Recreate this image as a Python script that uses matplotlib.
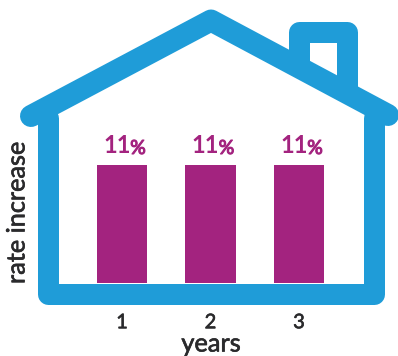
import matplotlib
matplotlib.use("Agg")
import matplotlib.pyplot as plt
import matplotlib.patheffects as pe

plt.rcParams['font.family'] = ['Lato', 'DejaVu Sans']

years = [1, 2, 3]
rate_increase = [11, 11, 11]
labels = ['11%', '11%', '11%']
x_title = 'years'
y_title = 'rate increase'

BLUE = '#1F9CD8'
PURPLE = '#A3237F'
INK = '#2A2A2C'
W, H = 398, 356

fig = plt.figure(figsize=(W / 100, H / 100), dpi=100)

# Overlay in pixel units that holds the house outline
house = fig.add_axes([0, 0, 1, 1])
house.set_xlim(0, W)
house.set_ylim(H, 0)
house.axis('off')
stroke = 21 * 0.72
style = dict(color=BLUE, lw=stroke, solid_joinstyle='round', solid_capstyle='round')
house.plot([298.5, 298.5, 346.5, 346.5], [62, 32, 32, 92], **style)
house.plot([31, 211, 388], [116, 20.5, 115], color=BLUE, lw=22 * 0.72,
           solid_joinstyle='round', solid_capstyle='round')
house.plot([47.5, 47.5, 373.5, 373.5], [118, 293.5, 293.5, 118], **style)

# Text weight sits between regular and bold, so thicken the outlines slightly
thicken = [pe.withStroke(linewidth=0.45, foreground=INK)]

# Bars sit inside the walls, on the inner edge of the floor
ax = fig.add_axes([58 / W, (H - 283) / H, 305 / W, 214.6 / H])
ax.patch.set_alpha(0)
ax.set_xlim(0.277, 3.723)
ax.set_ylim(0, 20)
bars = ax.bar(years, rate_increase, width=0.565, color=PURPLE, zorder=3)
for rect, text in zip(bars, labels):
    centre = rect.get_x() + rect.get_width() / 2
    ax.annotate(text[:-1], (centre, rect.get_height()),
                xytext=(-5, 8), textcoords='offset pixels', ha='center', va='bottom',
                fontsize=17, fontweight='bold', color=PURPLE, annotation_clip=False)
    ax.annotate(text[-1], (centre, rect.get_height()),
                xytext=(16, 8), textcoords='offset pixels', ha='center', va='bottom',
                fontsize=14, color=PURPLE, annotation_clip=False,
                path_effects=[pe.withStroke(linewidth=0.8, foreground=PURPLE)])
for s in ax.spines.values():
    s.set_visible(False)
ax.set_yticks([])
ax.set_xticks(years)
ax.tick_params(axis='x', length=0, pad=22.5, labelsize=14.5, labelcolor=INK)
for t in ax.get_xticklabels():
    t.set_path_effects(thicken)

fig.text(211 / W, 1 - 344 / H, x_title, ha='center', va='center', fontsize=18.3, color=INK,
         path_effects=thicken)
fig.text(17 / W, 1 - 213 / H, y_title, ha='center', va='center', rotation=90, fontsize=18.2, color=INK,
         path_effects=thicken)

fig.savefig('out.png', dpi=100, facecolor='white')
